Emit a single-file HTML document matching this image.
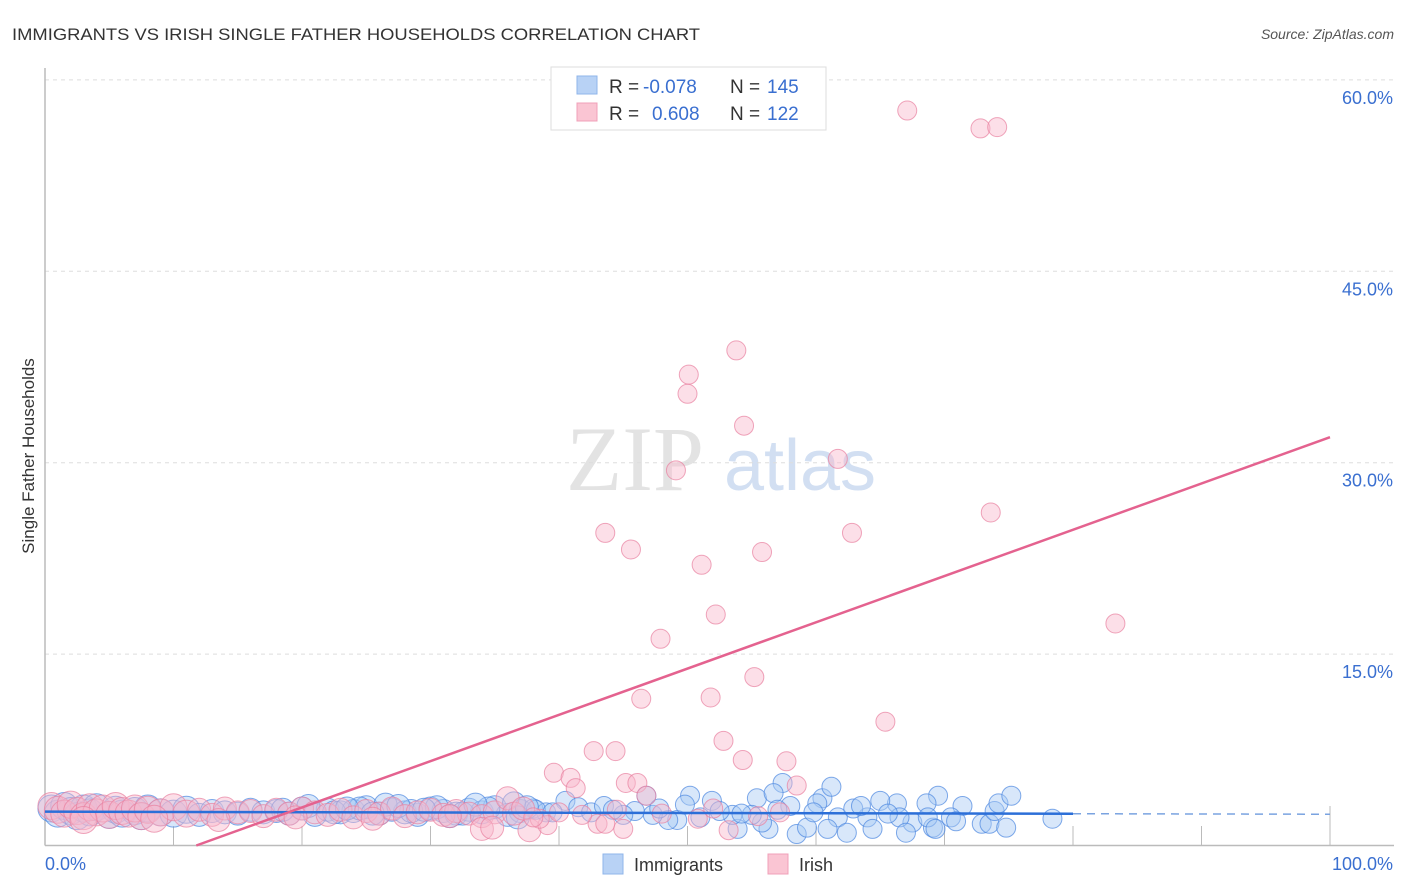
<!DOCTYPE html>
<html><head><meta charset="utf-8">
<style>
body{margin:0;background:#fff;font-family:"Liberation Sans",sans-serif;}
svg{display:block}
</style></head>
<body>
<svg id="chart" width="1406" height="892" xmlns="http://www.w3.org/2000/svg" font-family="Liberation Sans, sans-serif">
<text x="12" y="40" font-size="17" fill="#333" textLength="688" lengthAdjust="spacingAndGlyphs">IMMIGRANTS VS IRISH SINGLE FATHER HOUSEHOLDS CORRELATION CHART</text>
<text x="1394" y="39" font-size="14" fill="#555" text-anchor="end" font-style="italic">Source: ZipAtlas.com</text>
<g>
<text x="635" y="490" font-size="92" fill="#ddd" font-family="Liberation Serif, serif" text-anchor="middle" opacity="0.8">ZIP</text>
<text x="800" y="490" font-size="72" fill="#c8d8f0" text-anchor="middle" opacity="0.8">atlas</text>
</g>
<g id="grid"></g>
<g id="axes"></g>
<g id="pts"></g>
<g id="trends"></g>
<text transform="translate(34,456) rotate(-90)" font-size="17" fill="#333" text-anchor="middle">Single Father Households</text>
<g>
<rect x="551" y="67" width="275" height="63" fill="#fff" stroke="#ddd"/>
<rect x="577" y="76" width="20" height="18" fill="#b8d2f5" stroke="#8fb5ea"/>
<rect x="577" y="103" width="20" height="18" fill="#fac5d3" stroke="#f0a0b8"/>
<text x="609" y="93" font-size="19" fill="#333">R =</text>
<text x="643" y="93" font-size="19" fill="#3a6fd0">-0.078</text>
<text x="730" y="93" font-size="19" fill="#333">N =</text>
<text x="767" y="93" font-size="19" fill="#3a6fd0">145</text>
<text x="609" y="120" font-size="19" fill="#333">R =</text>
<text x="652" y="120" font-size="19" fill="#3a6fd0">0.608</text>
<text x="730" y="120" font-size="19" fill="#333">N =</text>
<text x="767" y="120" font-size="19" fill="#3a6fd0">122</text>
</g>
<g>
<rect x="603" y="854" width="20" height="20" fill="#b8d2f5" stroke="#8fb5ea"/>
<text x="634" y="871" font-size="18" fill="#333">Immigrants</text>
<rect x="768" y="854" width="20" height="20" fill="#fac5d3" stroke="#f0a0b8"/>
<text x="799" y="871" font-size="18" fill="#333">Irish</text>
</g>
</svg>
<script>
const yTicks=[15,30,45,60];
const yTickLabels=["15.0%","30.0%","45.0%","60.0%"];
const xTicks=[0,10,20,30,40,50,60,70,80,90,100];
const blueX=[0.5,1,1.5,2,2.5,3,3.5,4,5,5.5,6,7,7.5,8,9,10,11,12,13,14,15,16,17,18,19,20,21,22,23,24,25,26,27,28,29,30,31,32,33,34,35,36,37,38,39,
 18.5,20.5,22.5,24.5,26.5,28.5,30.5,32.5,34.5,36.5,38.2,
 40.5,46.8,50.2,51.9,55.4,57.4,56.7,58.0,60.5,60.1,61.7,64.0,64.4,66.3,69.5,68.6,67.5,69.1,62.4,60.9,58.5,59.3,56.3,55.8,53.9,55.0,53.5,49.2,48.5,47.3,45.9,45.0,61.2,65.0,
 66.5,67.0,68.7,69.3,71.4,70.5,70.9,72.9,73.5,73.9,74.2,75.2,74.8,78.4,
 41.5,42.5,43.5,44.2,47.8,49.8,51.0,52.5,54.2,57.0,59.8,62.9,63.5,65.6,36.8,37.5,39.5,33.5,31.5,29.5,27.5,25.5,23.5];
const blueY=[2.9,2.5,3.1,2.7,2.3,2.9,2.6,3.0,2.4,2.8,2.5,2.7,2.3,2.9,2.6,2.5,2.8,2.4,2.7,2.6,2.5,2.8,2.6,2.7,2.5,2.9,2.4,2.8,2.6,2.7,3.0,2.5,2.8,2.6,2.4,2.9,2.7,2.5,2.8,2.6,3.0,2.4,2.7,2.9,2.6,
 2.8,3.1,2.6,2.9,3.2,2.7,3.0,2.5,2.9,3.3,2.8,
 3.5,3.9,3.9,3.5,3.7,4.9,4.1,3.1,3.7,3.3,2.2,2.2,1.3,3.3,3.9,3.3,1.8,1.4,1.0,1.3,0.9,1.4,1.3,1.8,1.3,2.4,2.4,2.0,2.0,2.4,2.7,2.4,4.6,3.5,
 2.2,1.0,2.2,1.3,3.1,2.2,1.9,1.7,1.7,2.7,3.3,3.9,1.4,2.1,
 3.0,2.6,3.1,2.8,2.9,3.2,2.2,2.7,2.5,2.8,2.6,2.9,3.1,2.5,2.2,3.0,2.6,3.2,2.3,2.8,3.1,2.5,2.9];
const pinkX=[0.5,1,1.5,2,2.5,3,3.5,4,4.5,5,5.5,6,6.5,7,7.5,8,9,10,11,12,13,14,15,16,17,18,19,20,21,22,23,24,25,26,27,28,29,30,31,32,33,34,35,
 3,8.5,13.5,19.5,25.5,31.5,
 67.1,72.8,74.1,53.8,50.1,50.0,54.4,61.7,49.1,73.6,43.6,62.8,45.6,55.8,51.1,52.2,83.3,47.9,55.2,46.4,51.8,65.4,52.8,44.4,57.7,
 39.6,40.9,41.3,45.2,46.1,46.8,54.3,42.7,58.5,45.0,43.0,43.6,37.7,39.1,53.2,50.8,52.0,36.0,34.0,34.8,38.5,
 36.5,37.2,38.0,40.0,41.8,44.5,48.0,55.5,57.2];
const pinkY=[3.1,2.8,2.5,3.2,2.7,2.3,3.0,2.6,2.9,2.4,3.1,2.7,2.5,2.9,2.3,2.8,2.6,3.0,2.5,2.8,2.4,2.9,2.6,2.7,2.3,2.8,2.5,2.9,2.6,2.4,2.8,2.2,2.7,2.5,2.9,2.3,2.6,2.8,2.4,2.7,2.5,2.3,2.6,
 2.0,2.1,2.0,2.2,2.1,2.3,
 57.6,56.2,56.3,38.8,36.9,35.4,32.9,30.3,29.4,26.1,24.5,24.5,23.2,23.0,22.0,18.1,17.4,16.2,13.2,11.5,11.6,9.7,8.2,7.4,6.6,
 5.7,5.3,4.5,4.9,4.9,3.9,6.7,7.4,4.7,1.3,1.7,1.7,1.2,1.6,1.2,2.1,2.9,3.7,1.3,1.4,2.1,
 2.5,2.9,2.2,2.6,2.4,2.8,2.5,2.3,2.6];
const blueTrend=[2.65,2.45];
const pinkTrend=[-4.27,32.0];

const NS="http://www.w3.org/2000/svg";
const X0=45,X1=1330,Y0=845.5,PXP=12.76;
function sx(v){return X0+(X1-X0)*v/100;}
function sy(v){return Y0-v*PXP;}
function mk(tag,attrs,parent){const e=document.createElementNS(NS,tag);for(const k in attrs)e.setAttribute(k,attrs[k]);parent.appendChild(e);return e;}
const grid=document.getElementById('grid'),axes=document.getElementById('axes'),pts=document.getElementById('pts'),tr=document.getElementById('trends');
yTicks.forEach((t,i)=>{
 const l=mk('line',{x1:X0,x2:1394,y1:sy(t),y2:sy(t),stroke:'#ddd','stroke-dasharray':'4,4'},grid);
 
 
 const tx=mk('text',{x:1393,y:sy(t)+24,'font-size':18,fill:'#3a6fd0','text-anchor':'end'},axes);
 tx.textContent=yTickLabels[i];
 
 
});
const ax=mk('line',{x1:X0,x2:X0,y1:68,y2:Y0,stroke:'#bbb','stroke-width':1.5},axes);


const xa=mk('line',{x1:X0,x2:1394,y1:Y0,y2:Y0,stroke:'#bbb','stroke-width':1.5},axes);


xTicks.forEach(t=>{
 const tk=mk('line',{x1:sx(t),x2:sx(t),y1:t===100?806:826,y2:Y0,stroke:'#bbb'},axes);
 
 
});
const xl0=mk('text',{x:45,y:870,'font-size':18,fill:'#3a6fd0'},axes);xl0.textContent='0.0%';


const xl1=mk('text',{x:1393,y:870,'font-size':18,fill:'#3a6fd0','text-anchor':'end'},axes);xl1.textContent='100.0%';


function rad(x){return x<12?13.5:(x<38?11.5:9.5);}
function drawPts(xs,ys,fill,stroke,name){
 xs.forEach((x,i)=>{
  const c=mk('circle',{cx:sx(x),cy:sy(ys[i]),r:rad(x),fill:fill,'fill-opacity':0.45,stroke:stroke,'stroke-opacity':0.7,'stroke-width':1},pts);
  
  
 });
}
drawPts(blueX,blueY,'#a9c9f3','#4a86e0','immigrants-point');
drawPts(pinkX,pinkY,'#f8b9cb','#e8809f','irish-point');
const bx=80;
const b1=mk('line',{x1:sx(0),y1:sy(blueTrend[0]),x2:sx(bx),y2:sy(blueTrend[0]+(blueTrend[1]-blueTrend[0])*bx/100),stroke:'#2c6fd8','stroke-width':2.5},tr);


const b2=mk('line',{x1:sx(bx),y1:sy(blueTrend[0]+(blueTrend[1]-blueTrend[0])*bx/100),x2:sx(100),y2:sy(blueTrend[1]),stroke:'#7aa3e0','stroke-width':1.5,'stroke-dasharray':'8,6'},tr);


const x0p=-pinkTrend[0]/(pinkTrend[1]-pinkTrend[0])*100;
const p1=mk('line',{x1:sx(x0p),y1:sy(0),x2:sx(100),y2:sy(pinkTrend[1]),stroke:'#e4628f','stroke-width':2.5},tr);


</script>
</body></html>
